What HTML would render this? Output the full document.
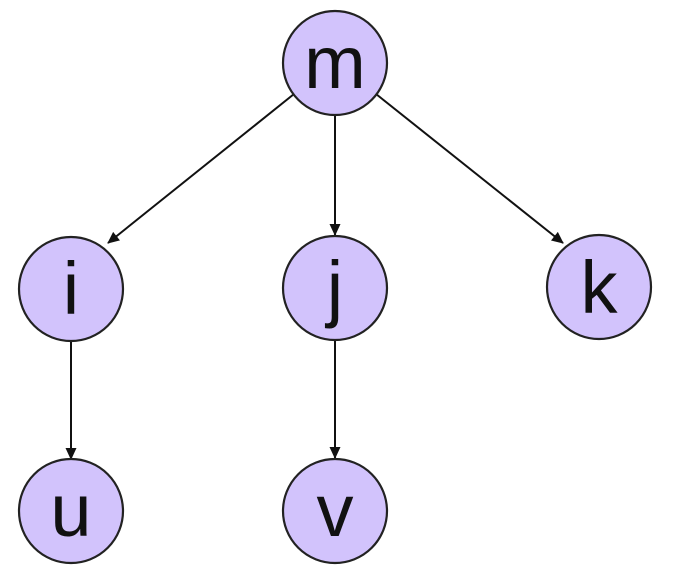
<!DOCTYPE html>
<html><head><style>html,body{margin:0;padding:0;background:#fff}</style></head>
<body>
<svg width="681" height="574" viewBox="0 0 681 574" xmlns="http://www.w3.org/2000/svg">
<defs>
<marker id="a" markerWidth="12" markerHeight="12" refX="11" refY="5.5" orient="auto" markerUnits="userSpaceOnUse">
<path d="M0,0 L12,5.5 L0,11 Z" fill="#111"/>
</marker>
</defs>
<g stroke="#111" stroke-width="2" fill="none">
<line x1="294" y1="94" x2="108" y2="243" marker-end="url(#a)"/>
<line x1="335" y1="115" x2="335" y2="235" marker-end="url(#a)"/>
<line x1="376" y1="94" x2="563" y2="243" marker-end="url(#a)"/>
<line x1="71" y1="341" x2="71" y2="459" marker-end="url(#a)"/>
<line x1="335" y1="340" x2="335" y2="458" marker-end="url(#a)"/>
</g>
<g fill="#d2c3fc" stroke="#222" stroke-width="2.2">
<circle cx="335" cy="63" r="52"/>
<circle cx="71" cy="289" r="52"/>
<circle cx="335" cy="288" r="52"/>
<circle cx="599" cy="287" r="52"/>
<circle cx="71" cy="511" r="52"/>
<circle cx="335" cy="511" r="52"/>
</g>
<g font-family="Liberation Sans, sans-serif" font-size="74" fill="#111" text-anchor="middle">
<text x="335" y="88">m</text>
<text x="71" y="314">i</text>
<text x="335" y="313">j</text>
<text x="599" y="313">k</text>
<text x="71" y="536">u</text>
<text x="335" y="536">v</text>
</g>
</svg>
</body></html>
